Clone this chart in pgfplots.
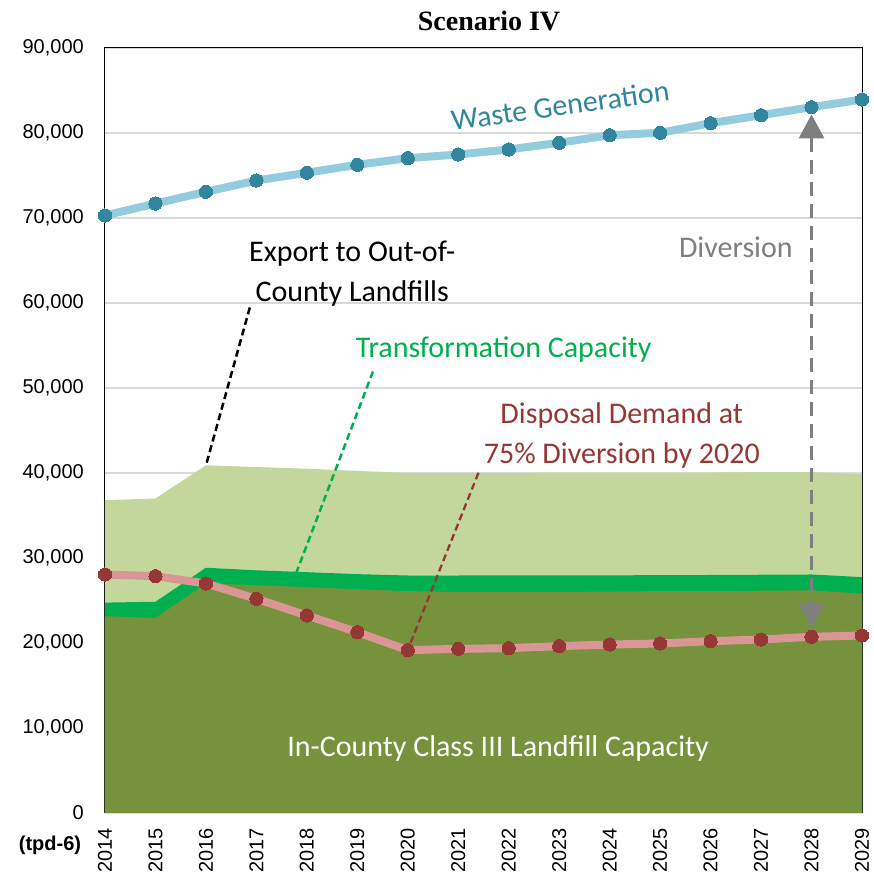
\documentclass[border=0pt]{standalone}
\usepackage{fontspec}
\setmainfont{Liberation Sans}
\newfontfamily\calfont{Carlito}
\newfontfamily\serfont{Liberation Serif}
\usepackage{pgfplots}
\pgfplotsset{compat=1.18}
\usetikzlibrary{arrows.meta}
\definecolor{darkg}{HTML}{76923C}
\definecolor{brightg}{HTML}{00B050}
\definecolor{lightg}{HTML}{C3D69B}
\definecolor{wline}{HTML}{93CDDD}
\definecolor{wmark}{HTML}{31859C}
\definecolor{dline}{HTML}{D99694}
\definecolor{dmark}{HTML}{953735}
\definecolor{gridc}{HTML}{D9D9D9}
\definecolor{divg}{HTML}{7F7F7F}
\begin{document}
\begin{tikzpicture}
\begin{axis}[
  scale only axis, width=757pt, height=765pt,
  xmin=2014, xmax=2029, ymin=0, ymax=90000,
  xtick={2014,...,2029},
  ytick={0,10000,20000,30000,40000,50000,60000,70000,80000,90000},
  scaled y ticks=false,
  major tick length=0pt,
  ymajorgrids, major grid style={draw=gridc, line width=1.5pt},
  axis line style={black, line width=1pt},
  clip=false,
  tick label style={font=\fontsize{20}{24}\selectfont},
  /pgf/number format/assume math mode=true,
  x tick label style={rotate=90, anchor=east, inner sep=0pt, /pgf/number format/1000 sep={}},
  y tick label style={anchor=east, inner sep=0pt, /pgf/number format/1000 sep={,}},
  xticklabel shift=15pt, yticklabel shift=21pt,
]
% Export to out-of-county landfills (top of stack)
\addplot[fill=lightg, draw=none] coordinates {(2014,36800)(2015,37000)(2016,40900)(2017,40700)(2018,40500)(2019,40250)(2020,40000)(2021,40000)(2022,40000)(2023,40050)(2024,40050)(2025,40050)(2026,40050)(2027,40100)(2028,40100)(2029,39850)} \closedcycle;
% Transformation capacity
\addplot[fill=brightg, draw=none] coordinates {(2014,24750)(2015,24850)(2016,28850)(2017,28550)(2018,28330)(2019,28100)(2020,27940)(2021,27940)(2022,27950)(2023,27950)(2024,27960)(2025,27980)(2026,28000)(2027,28030)(2028,28060)(2029,27750)} \closedcycle;
% In-county landfill capacity
\addplot[fill=darkg, draw=none] coordinates {(2014,23150)(2015,22960)(2016,27000)(2017,26800)(2018,26570)(2019,26330)(2020,26100)(2021,26000)(2022,26000)(2023,26000)(2024,26050)(2025,26100)(2026,26100)(2027,26150)(2028,26200)(2029,25800)} \closedcycle;
% Waste generation
\addplot[wline, line width=8pt, mark=*, mark size=6.6pt, mark options={fill=wmark, draw=wmark, line width=0pt}] coordinates {(2014,70290)(2015,71700)(2016,73080)(2017,74410)(2018,75320)(2019,76260)(2020,77040)(2021,77470)(2022,78060)(2023,78850)(2024,79740)(2025,80020)(2026,81150)(2027,82090)(2028,83040)(2029,83940)};
% Disposal demand
\addplot[dline, line width=8pt, mark=*, mark size=6.6pt, mark options={fill=dmark, draw=dmark, line width=0pt}] coordinates {(2014,28060)(2015,27860)(2016,27000)(2017,25200)(2018,23240)(2019,21270)(2020,19160)(2021,19310)(2022,19390)(2023,19630)(2024,19820)(2025,19940)(2026,20220)(2027,20410)(2028,20730)(2029,20880)};

% leader lines
\draw[black, line width=2.5pt, dash pattern=on 7pt off 4pt] (axis cs:2016.87,59470) -- (axis cs:2016,40880);
\draw[brightg, line width=2.5pt, dash pattern=on 7pt off 4pt] (axis cs:2019.31,51940) -- (axis cs:2017.68,26530);
\draw[dmark, line width=2.3pt, dash pattern=on 7pt off 4pt] (axis cs:2021.40,40020) -- (axis cs:2020.02,19500);
% diversion arrow
\draw[divg, line width=3.3pt, dash pattern=on 14pt off 8pt, {Triangle[width=25pt,length=24pt]}-{Triangle[width=25pt,length=24pt]}] (axis cs:2028,82180) -- (axis cs:2028,21790);

% texts
\node[font=\calfont\fontsize{30}{34}\selectfont, text=wmark, rotate=8] at (axis cs:2023.02,83235) {Waste Generation};
\node[font=\calfont\fontsize{30}{34}\selectfont, text=divg] at (axis cs:2026.5,66530) {Diversion};
\node[font=\calfont\fontsize{30}{34}\selectfont, text=black, anchor=base] at (axis cs:2018.9,64880) {Export to Out-of-};
\node[font=\calfont\fontsize{30}{34}\selectfont, text=black, anchor=base] at (axis cs:2018.9,60180) {County Landfills};
\node[font=\calfont\fontsize{30}{34}\selectfont, text=brightg, anchor=base] at (axis cs:2021.9,53590) {Transformation Capacity};
\node[font=\calfont\fontsize{30}{34}\selectfont, text=dmark, anchor=base] at (axis cs:2024.24,45820) {Disposal Demand at};
\node[font=\calfont\fontsize{30}{34}\selectfont, text=dmark, anchor=base] at (axis cs:2024.24,41120) {75\% Diversion by 2020};
\node[font=\calfont\fontsize{30}{34}\selectfont, text=white, anchor=base] at (axis cs:2021.79,6680) {In-County Class III Landfill Capacity};
\node[font=\serfont\bfseries\fontsize{28}{32}\selectfont, anchor=base, xshift=5.5pt, yshift=17pt] at (rel axis cs:0.5,1) {Scenario IV};
\node[font=\bfseries\fontsize{20}{24}\selectfont, xshift=-55pt, yshift=-32pt] at (rel axis cs:0,0) {(tpd-6)};
\end{axis}
\pgfresetboundingbox
\path ([shift={(-105pt,-59pt)}]current axis.south west) rectangle ([shift={(12pt,48pt)}]current axis.north east);
\end{tikzpicture}
\end{document}
